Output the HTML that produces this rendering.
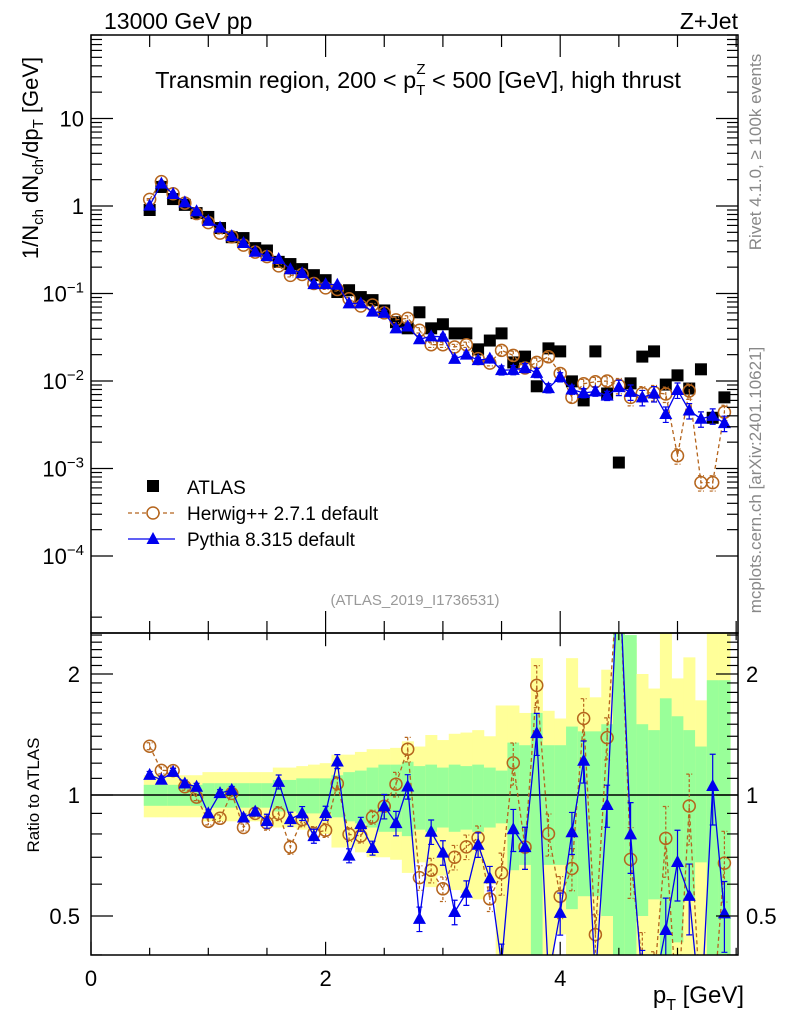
<!DOCTYPE html>
<html><head><meta charset="utf-8"><style>
html,body{margin:0;padding:0;background:#fff;overflow:hidden;width:786px;height:1024px;}
svg{display:block;font-family:"Liberation Sans",Arial,sans-serif;}
</style></head><body>
<svg id="chart" width="786" height="1024" viewBox="0 0 786 1024" xmlns="http://www.w3.org/2000/svg">
<defs>
<clipPath id="clipMain"><rect x="91" y="35" width="647" height="598"/></clipPath>
<clipPath id="clipRatio"><rect x="91" y="633" width="647" height="322"/></clipPath>
</defs>
<g id="bands" clip-path="url(#clipRatio)"></g>
<line x1="91" y1="795" x2="738" y2="795" stroke="#000" stroke-width="1.5"/>
<g id="mainMarks" clip-path="url(#clipMain)"></g>
<g id="ratioMarks" clip-path="url(#clipRatio)"></g>
<g id="axes"></g>
<rect x="91" y="35" width="647" height="598" fill="none" stroke="#000" stroke-width="1.5"/>
<rect x="91" y="633" width="647" height="322" fill="none" stroke="#000" stroke-width="1.5"/>
<text x="104" y="29" font-size="23">13000 GeV pp</text>
<text x="738" y="29" font-size="23" text-anchor="end">Z+Jet</text>
<text x="418" y="88" font-size="23.5" text-anchor="middle">Transmin region, 200 &lt; p<tspan font-size="15" dy="7">T</tspan><tspan font-size="15" dx="-9" dy="-21">Z</tspan><tspan dy="14"> &lt; 500 [GeV], high thrust</tspan></text>
<text transform="translate(38,158) rotate(-90)" font-size="22" text-anchor="middle">1/N<tspan font-size="15" dy="5">ch</tspan><tspan dy="-5"> dN</tspan><tspan font-size="15" dy="5">ch</tspan><tspan dy="-5">/dp</tspan><tspan font-size="15" dy="5">T</tspan><tspan dy="-5"> [GeV]</tspan></text>
<text transform="translate(39,795) rotate(-90)" font-size="17" text-anchor="middle">Ratio to ATLAS</text>
<text x="744" y="1003" font-size="24" text-anchor="end">p<tspan font-size="16" dy="7">T</tspan><tspan dy="-7"> [GeV]</tspan></text>
<text transform="translate(761,152) rotate(-90)" font-size="17" fill="#888" text-anchor="middle">Rivet 4.1.0, ≥ 100k events</text>
<text transform="translate(761,480) rotate(-90)" font-size="17" fill="#888" text-anchor="middle">mcplots.cern.ch [arXiv:2401.10621]</text>
<text x="415" y="605" font-size="15" fill="#999" text-anchor="middle">(ATLAS_2019_I1736531)</text>
<g>
<g>
<rect x="147" y="480" width="12" height="12" fill="#000"/>
<text x="187" y="494" font-size="19">ATLAS</text></g>
<g>
<line x1="128" y1="513" x2="175" y2="513" stroke="#b5651d" stroke-width="1.3" stroke-dasharray="4,3"/>
<circle cx="153" cy="513" r="6" fill="#fff" stroke="#b5651d" stroke-width="1.5"/>
<text x="187" y="520" font-size="19">Herwig++ 2.7.1 default</text></g>
<g>
<line x1="128" y1="539" x2="175" y2="539" stroke="#0000ee" stroke-width="1.3"/>
<path d="M153,532 L159.5,544 L146.5,544 Z" fill="#0000ee"/>
<text x="187" y="546" font-size="19">Pythia 8.315 default</text></g>
</g>
</svg>
<script>
const pT = [0.5,0.6,0.7,0.8,0.9,1.0,1.1,1.2,1.3,1.4,1.5,1.6,1.7,1.8,1.9,2.0,2.1,2.2,2.3,2.4,2.5,2.6,2.7,2.8,2.9,3.0,3.1,3.2,3.3,3.4,3.5,3.6,3.7,3.8,3.9,4.0,4.1,4.2,4.3,4.4,4.5,4.6,4.7,4.8,4.9,5.0,5.1,5.2,5.3,5.4];
const atlas = [0.90,1.65,1.20,1.03,0.83,0.75,0.56,0.44,0.43,0.33,0.31,0.23,0.217,0.19,0.162,0.142,0.104,0.109,0.091,0.084,0.064,0.047,0.040,0.061,0.040,0.0445,0.035,0.035,0.023,0.029,0.035,0.0163,0.019,0.0087,0.0236,0.0218,0.0099,0.0060,0.0218,0.0072,0.00117,0.0094,0.019,0.0218,0.0091,0.0116,0.0082,0.0136,0.0038,0.0065];
const herwig = [1.19,1.90,1.38,1.08,0.82,0.645,0.49,0.444,0.357,0.297,0.264,0.207,0.161,0.165,0.130,0.116,0.111,0.087,0.072,0.074,0.060,0.050,0.052,0.038,0.026,0.026,0.0245,0.026,0.018,0.016,0.0224,0.0196,0.0141,0.0163,0.0189,0.0122,0.0065,0.0093,0.0098,0.0100,0.0089,0.0065,0.0072,0.0074,0.0071,0.0014,0.0077,0.00069,0.00069,0.0044];
const pythia = [1.01,1.80,1.37,1.10,0.87,0.675,0.566,0.453,0.378,0.300,0.267,0.248,0.189,0.171,0.128,0.128,0.126,0.077,0.077,0.062,0.060,0.040,0.042,0.030,0.0324,0.032,0.0179,0.020,0.0173,0.018,0.0133,0.0134,0.0141,0.0124,0.0083,0.0111,0.0080,0.0073,0.0076,0.0068,0.0085,0.0075,0.0065,0.0072,0.0042,0.0079,0.0046,0.0037,0.0040,0.0033];
const mcRelErr = [0.02,0.02,0.02,0.02,0.02,0.02,0.02,0.02,0.02,0.02,0.04,0.04,0.04,0.04,0.04,0.04,0.04,0.04,0.04,0.04,0.07,0.07,0.07,0.07,0.07,0.07,0.07,0.07,0.07,0.07,0.12,0.12,0.12,0.12,0.12,0.12,0.12,0.12,0.12,0.12,0.2,0.2,0.2,0.2,0.2,0.2,0.2,0.2,0.2,0.2];
const errStat = [0.06,0.06,0.06,0.06,0.06,0.07,0.07,0.07,0.07,0.07,0.07,0.09,0.09,0.10,0.10,0.10,0.12,0.14,0.15,0.17,0.19,0.19,0.21,0.18,0.19,0.17,0.19,0.18,0.19,0.17,0.15,0.35,0.33,0.6,0.33,0.33,0.48,0.44,0.44,0.5,3.0,1.5,0.5,0.45,0.74,0.57,0.45,0.32,0.93,0.93];
const errTot = [0.12,0.12,0.12,0.12,0.12,0.14,0.14,0.14,0.14,0.14,0.14,0.17,0.17,0.18,0.19,0.2,0.26,0.26,0.28,0.3,0.3,0.31,0.36,0.32,0.41,0.37,0.42,0.43,0.45,0.40,0.67,0.67,0.60,1.19,0.62,0.55,1.19,0.85,0.75,1.05,4.0,1.39,1.0,0.84,1.7,0.95,1.2,0.72,2.0,2.0];
const xTicksMajor = [0,2,4];
const mainDecades = [-4,-3,-2,-1,0,1];
const ratioLabels = [0.5,1,2];

const NS="http://www.w3.org/2000/svg";
function clamp(v,a,b){return Math.min(b,Math.max(a,v));}
function X(v){return 91+v*117.3;}
function Y(v){return clamp(206-87.5*Math.log10(v),20,1000);}
function RY(r){return clamp(795-121*Math.log2(Math.max(r,0.01)),560,1015);}
function mk(tag,attrs,parent){const e=document.createElementNS(NS,tag);for(const k in attrs)e.setAttribute(k,attrs[k]);parent.appendChild(e);return e;}
const bands=document.getElementById('bands'),mm=document.getElementById('mainMarks'),rm=document.getElementById('ratioMarks'),ax=document.getElementById('axes');
const half=0.05;
pT.forEach((p,i)=>{
  const x0=X(p-half),x1=X(p+half);
  const yT=clamp(RY(1+errTot[i]),630,958),yB=clamp(RY(1-errTot[i]),630,958);
  const b1=mk('rect',{x:x0,y:yT,width:x1-x0+0.3,height:yB-yT,fill:'#ffff99'},bands);
  
  
  const sT=clamp(RY(1+errStat[i]),630,958),sB=clamp(RY(1-errStat[i]),630,958);
  const b2=mk('rect',{x:x0,y:sT,width:x1-x0+0.3,height:sB-sT,fill:'#99ff99'},bands);
  
  
});
function drawSeries(vals,yf,parent,color,dash,kind,name){
  const pts=vals.map((v,i)=>X(pT[i])+','+yf(v)).join(' ');
  const pl=mk('polyline',{points:pts,fill:'none',stroke:color,'stroke-width':1.3},parent);
  if(dash)pl.setAttribute('stroke-dasharray',dash);
  
  
  vals.forEach((v,i)=>{
    const x=X(pT[i]),y=yf(v);
    const e=mcRelErr[i];
    const y1=yf(v*(1+e)),y2=yf(v*(1-e));
    const eb=mk('path',{d:`M${x},${y1}L${x},${y2}M${x-3},${y1}L${x+3},${y1}M${x-3},${y2}L${x+3},${y2}`,stroke:color,'stroke-width':1.2,fill:'none'},parent);
    if(dash)eb.setAttribute('stroke-dasharray','3,2');
    
    
    let m;
    if(kind==='circle'){m=mk('circle',{cx:x,cy:y,r:6,fill:'none',stroke:color,'stroke-width':1.5},parent);}
    else{m=mk('path',{d:`M${x},${y-7}L${x+6.5},${y+5}L${x-6.5},${y+5}Z`,fill:color},parent);}
    
    
  });
}
atlas.forEach((v,i)=>{
  const r=mk('rect',{x:X(pT[i])-6,y:Y(v)-6,width:12,height:12,fill:'#000'},mm);
  
  
});
drawSeries(herwig,Y,mm,'#b5651d','4,3','circle','herwig');
drawSeries(pythia,Y,mm,'#0000ee',null,'tri','pythia');
drawSeries(herwig.map((v,i)=>v/atlas[i]),RY,rm,'#b5651d','4,3','circle','herwig-ratio');
drawSeries(pythia.map((v,i)=>v/atlas[i]),RY,rm,'#0000ee',null,'tri','pythia-ratio');
function line(x1,y1,x2,y2,name){const l=mk('line',{x1,y1,x2,y2,stroke:'#000','stroke-width':1.2},ax);}
function txt(x,y,s,anchor,size,name){const t=mk('text',{x,y,'font-size':size,'text-anchor':anchor},ax);t.textContent=s;return t;}
for(let v=0;v<=5.5;v+=0.5){
  const x=X(v),maj=Math.abs(v-Math.round(v/2)*2)<1e-6;
  const L=maj?22:12;
  line(x,35,x,35+L,'x-tick');line(x,633,x,633-L,'x-tick');
  line(x,633,x,633+L*0.6,'x-tick');line(x,955,x,955-L*0.6,'x-tick');
}
xTicksMajor.forEach(v=>txt(X(v),986,String(v),'middle',22,'x-tick-label'));
mainDecades.forEach(d=>{
  const y=206-87.5*d;
  line(91,y,113,y,'y-tick');line(738,y,716,y,'y-tick');
  for(let k=2;k<10;k++){const yy=206-87.5*Math.log10(k*Math.pow(10,d));if(yy>35&&yy<633){line(91,yy,102,yy,'y-minor-tick');line(738,yy,727,yy,'y-minor-tick');}}
  if(d===0||d===1){txt(84,y+8,String(Math.pow(10,d)),'end',22,'y-tick-label');}
  else{const t=txt(84,y+8,'10','end',22,'y-tick-label');const s=document.createElementNS(NS,'tspan');s.setAttribute('font-size','15');s.setAttribute('dy','-9');s.textContent='−'+Math.abs(d);t.appendChild(s);}
});
{const yy=206-87.5*Math.log10(2e-5);line(91,yy,102,yy,'y-minor-tick');}
for(let r=0.4;r<=2.55;r+=0.1){
  const rr=Math.round(r*10)/10,y=RY(rr);
  if(y<633||y>955)continue;
  const maj=ratioLabels.includes(rr);
  const L=maj?22:11;
  line(91,y,91+L,y,'ratio-y-tick');line(738,y,738-L,y,'ratio-y-tick');
}
ratioLabels.forEach(r=>{txt(80,RY(r)+8,String(r),'end',22,'ratio-tick-label');txt(746,RY(r)+8,String(r),'start',22,'ratio-tick-label');});
</script>
</body></html>
